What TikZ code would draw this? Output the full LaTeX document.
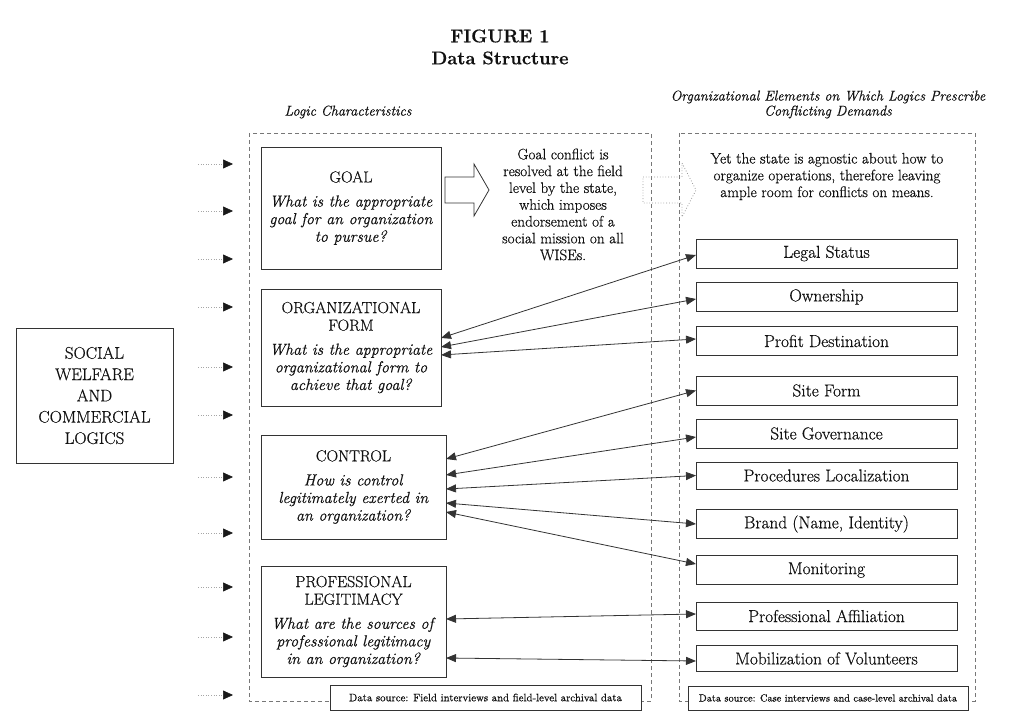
\documentclass[tikz,border=0pt]{standalone}
\usepackage{fontspec}
\setmainfont{Latin Modern Roman}[FakeBold=0.5]
\usetikzlibrary{arrows.meta}
\definecolor{ln}{HTML}{333333}
\definecolor{tx}{HTML}{111111}
\definecolor{dsh}{HTML}{777777}
\begin{document}
\begin{tikzpicture}[x=1pt,y=-1pt,
  every node/.style={text=tx, inner sep=0pt, outer sep=0pt},
  logicbox/.style={draw=ln, line width=0.9pt, align=center, font=\fontsize{16}{17.6}\selectfont},
  elembox/.style={draw=ln, line width=0.9pt, align=center, minimum width=261pt, minimum height=29pt, font=\fontsize{17.3}{19}\selectfont},
  srcbox/.style={draw=ln, fill=white, line width=0.8pt, align=center},
  framebox/.style={draw=dsh, line width=0.8pt, dash pattern=on 4pt off 3pt},
  link/.style={draw=ln, line width=0.8pt, {Triangle[length=10pt,width=8pt]}-{Triangle[length=10pt,width=8pt]}},
  feed/.style={draw=gray!70, line width=0.6pt, dotted, -{Triangle[length=10pt,width=9pt,black!90,fill=black!90]}},
  plaintext/.style={align=center, font=\fontsize{15.2}{16.8}\selectfont},
  header/.style={align=center, font=\fontsize{14.2}{15}\selectfont\itshape}
]
\useasboundingbox (0,0) rectangle (1010,727);

% titles
\node[align=center, font=\fontsize{18.4}{22}\selectfont\bfseries] (title) at (500,47) {FIGURE 1\\Data Structure};
\node[header] (hleft) at (348,112) {Logic Characteristics};
\node[header] (hright) at (828,104.5) {Organizational Elements on Which Logics Prescribe\\Conflicting Demands};

% dashed frames
\draw[framebox] (249,133) rectangle (651,701);
\draw[framebox] (679,133) rectangle (975,701);

% left logic box
\node[draw=ln, line width=0.9pt, align=center, minimum width=157pt, minimum height=135pt,
      font=\fontsize{16.9}{21.3}\selectfont] (logics) at (94.5,395.5)
      {SOCIAL\\WELFARE\\AND\\COMMERCIAL\\LOGICS};

% feed arrows
\foreach \yy [count=\i] in {164,211,259,307,367,415,477,533,587,637,695}{
  \coordinate (fs\i) at (198,\yy);
  \coordinate (fe\i) at (233,\yy);
  \draw[feed] (fs\i) -- (fe\i);
}

% logic characteristic boxes
\node[logicbox, minimum width=180pt, minimum height=122pt] (goal) at (351,208)
  {GOAL\\[6.5pt]\textit{What is the appropriate}\\\textit{goal for an organization}\\\textit{to pursue?}};
\node[logicbox, minimum width=180pt, minimum height=117pt] (form) at (351,347.5)
  {ORGANIZATIONAL\\FORM\\[6.5pt]\textit{What is the appropriate}\\\textit{organizational form to}\\\textit{achieve that goal?}};
\node[logicbox, minimum width=185pt, minimum height=104pt] (control) at (353.5,487)
  {CONTROL\\[6.5pt]\textit{How is control}\\\textit{legitimately exerted in}\\\textit{an organization?}};
\node[logicbox, minimum width=185pt, minimum height=111pt] (prof) at (353.5,621.5)
  {PROFESSIONAL\\LEGITIMACY\\[6.5pt]\textit{What are the sources of}\\\textit{professional legitimacy}\\\textit{in an organization?}};

% hollow arrows
\draw[ln, line width=0.8pt] (445,177) -- (474,177) -- (474,164) -- (489,190) -- (474,216) -- (474,203) -- (445,203) -- cycle;
\draw[gray!80, line width=0.8pt, dotted] (643,177) -- (682,177) -- (682,163) -- (696,190) -- (682,217) -- (682,203) -- (643,203) -- cycle;

% texts
\node[plaintext] (goaltext) at (563,204.5)
  {Goal conflict is\\resolved at the field\\level by the state,\\which imposes\\endorsement of a\\social mission on all\\WISEs.};
\node[plaintext] (yettext) at (827,176.5)
  {Yet the state is agnostic about how to\\organize operations, therefore leaving\\ample room for conflicts on means.};

% element boxes
\node[elembox] (legal) at (826.5,253.5) {Legal Status};
\node[elembox] (owner) at (826.5,297) {Ownership};
\node[elembox] (profit) at (826.5,341) {Profit Destination};
\node[elembox] (siteform) at (826.5,390.5) {Site Form};
\node[elembox] (sitegov) at (826.5,433.5) {Site Governance};
\node[elembox, minimum height=27pt] (proc) at (826.5,475.5) {Procedures Localization};
\node[elembox] (brand) at (826.5,524) {Brand (Name, Identity)};
\node[elembox] (monit) at (826.5,570) {Monitoring};
\node[elembox, minimum height=28pt] (affil) at (826.5,616) {Professional Affiliation};
\node[elembox, minimum height=26pt] (volun) at (826.5,658.5) {Mobilization of Volunteers};

% data source boxes
\node[srcbox, minimum width=311pt, minimum height=25pt, font=\fontsize{10.8}{12}\selectfont] (srcl) at (485.5,697.5)
  {Data source: Field interviews and field-level archival data};
\node[srcbox, minimum width=280pt, minimum height=24pt, font=\fontsize{10.3}{12}\selectfont] (srcr) at (828,698)
  {Data source: Case interviews and case-level archival data};

% links
\draw[link] ([yshift=9.5pt]form.east) -- ([yshift=-1.5pt]legal.west);
\draw[link] ([yshift=0.5pt]form.east) -- ([yshift=-2pt]owner.west);
\draw[link] ([yshift=-7.5pt]form.east) -- ([yshift=2pt]profit.west);
\draw[link] ([yshift=28pt]control.east) -- (siteform.west);
\draw[link] ([yshift=12pt]control.east) -- ([yshift=-3.5pt]sitegov.west);
\draw[link] ([yshift=-2pt]control.east) -- (proc.west);
\draw[link] ([yshift=-16pt]control.east) -- (brand.west);
\draw[link] ([yshift=-25pt]control.east) -- ([yshift=6pt]monit.west);
\draw[link] ([yshift=2.5pt]prof.east) -- ([yshift=2pt]affil.west);
\draw[link] ([yshift=-36.5pt]prof.east) -- ([yshift=-2.5pt]volun.west);
\end{tikzpicture}
\end{document}
